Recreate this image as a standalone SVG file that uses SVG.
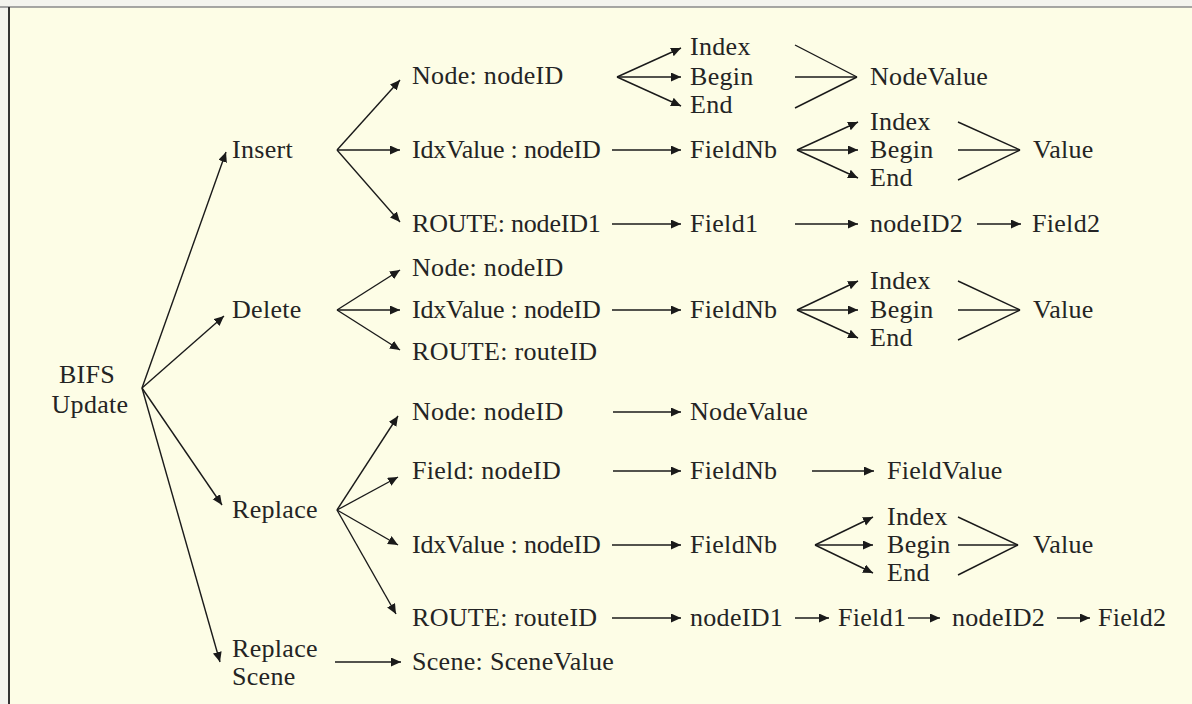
<svg xmlns="http://www.w3.org/2000/svg" width="1192" height="704" viewBox="0 0 1192 704">
<defs>
<marker id="ah" markerUnits="userSpaceOnUse" markerWidth="12" markerHeight="10" refX="10" refY="4.5" orient="auto">
<path d="M0,0 L10,4.5 L0,9 z" fill="#1a1a1a"/>
</marker>
<style>
text{font-family:"Liberation Serif","Times New Roman",serif;font-size:26px;letter-spacing:0.3px;fill:#242424}
text.t{letter-spacing:-0.2px}
.c line{stroke:#1a1a1a;stroke-width:1.4;fill:none}
.c .a{marker-end:url(#ah)}
</style>
</defs>
<rect x="0" y="0" width="1192" height="704" fill="#f4f4ee"/>
<rect x="9" y="7" width="1183" height="697" fill="#fdfde6"/>
<line x1="0" y1="7" x2="1192" y2="7" stroke="#8a8a8a" stroke-width="1.5"/>
<line x1="9" y1="7" x2="9" y2="704" stroke="#333" stroke-width="2"/>

<g id="connectors" class="c">
<line class="a" x1="142" y1="388" x2="226" y2="152"/>
<line class="a" x1="142" y1="388" x2="224" y2="316"/>
<line class="a" x1="142" y1="388" x2="222" y2="505"/>
<line class="a" x1="142" y1="388" x2="220" y2="662"/>

<line class="a" x1="337" y1="150" x2="400" y2="80"/>
<line class="a" x1="337" y1="150" x2="400" y2="150"/>
<line class="a" x1="337" y1="150" x2="400" y2="222"/>
<line class="a" x1="617" y1="77" x2="681" y2="48"/>
<line class="a" x1="617" y1="77" x2="681" y2="77"/>
<line class="a" x1="617" y1="77" x2="681" y2="106"/>
<line x1="795" y1="45" x2="857" y2="77"/>
<line x1="795" y1="77" x2="857" y2="77"/>
<line x1="795" y1="108" x2="857" y2="77"/>
<line class="a" x1="612" y1="150" x2="681" y2="150"/>
<line class="a" x1="797" y1="150" x2="858" y2="122"/>
<line class="a" x1="797" y1="150" x2="858" y2="150"/>
<line class="a" x1="797" y1="150" x2="858" y2="178"/>
<line x1="958" y1="122" x2="1020" y2="150"/>
<line x1="958" y1="150" x2="1020" y2="150"/>
<line x1="958" y1="180" x2="1020" y2="150"/>
<line class="a" x1="612" y1="224" x2="681" y2="224"/>
<line class="a" x1="795" y1="224" x2="858" y2="224"/>
<line class="a" x1="977" y1="224" x2="1021" y2="224"/>

<line class="a" x1="337" y1="310" x2="400" y2="270"/>
<line class="a" x1="337" y1="310" x2="400" y2="310"/>
<line class="a" x1="337" y1="310" x2="400" y2="350"/>
<line class="a" x1="612" y1="310" x2="681" y2="310"/>
<line class="a" x1="797" y1="310" x2="858" y2="281"/>
<line class="a" x1="797" y1="310" x2="858" y2="310"/>
<line class="a" x1="797" y1="310" x2="858" y2="338"/>
<line x1="958" y1="281" x2="1020" y2="310"/>
<line x1="958" y1="310" x2="1020" y2="310"/>
<line x1="958" y1="340" x2="1020" y2="310"/>

<line class="a" x1="337" y1="510" x2="398" y2="416"/>
<line class="a" x1="337" y1="510" x2="398" y2="477"/>
<line class="a" x1="337" y1="510" x2="398" y2="545"/>
<line class="a" x1="337" y1="510" x2="396" y2="614"/>
<line class="a" x1="613" y1="412" x2="681" y2="412"/>
<line class="a" x1="613" y1="471" x2="681" y2="471"/>
<line class="a" x1="812" y1="471" x2="874" y2="471"/>
<line class="a" x1="612" y1="545" x2="681" y2="545"/>
<line class="a" x1="815" y1="545" x2="873" y2="517"/>
<line class="a" x1="815" y1="545" x2="873" y2="545"/>
<line class="a" x1="815" y1="545" x2="873" y2="573"/>
<line x1="958" y1="517" x2="1018" y2="545"/>
<line x1="958" y1="545" x2="1018" y2="545"/>
<line x1="958" y1="575" x2="1018" y2="545"/>
<line class="a" x1="612" y1="618" x2="681" y2="618"/>
<line class="a" x1="795" y1="618" x2="829" y2="618"/>
<line class="a" x1="908" y1="618" x2="940" y2="618"/>
<line class="a" x1="1057" y1="618" x2="1090" y2="618"/>
<line class="a" x1="335" y1="662" x2="401" y2="662"/>
</g>

<g id="bifs"><text x="87" y="383" text-anchor="middle">BIFS</text><text x="90" y="413" text-anchor="middle">Update</text></g>
<g id="insert"><text x="232" y="158">Insert</text></g>
<g id="delete"><text x="232" y="318">Delete</text></g>
<g id="replace"><text x="232" y="518">Replace</text></g>
<g id="replaceScene"><text x="232" y="657">Replace</text><text x="232" y="685">Scene</text></g>

<g id="ins-node"><text x="412" y="84">Node: nodeID</text></g>
<g id="ins-node-index"><text x="690" y="55">Index</text></g>
<g id="ins-node-begin"><text x="690" y="85">Begin</text></g>
<g id="ins-node-end"><text x="690" y="113">End</text></g>
<g id="ins-nodevalue"><text x="870" y="85">NodeValue</text></g>
<g id="ins-idx"><text class="t" x="412" y="158">IdxValue : nodeID</text></g>
<g id="ins-fieldnb"><text x="690" y="158">FieldNb</text></g>
<g id="ins-idx-index"><text x="870" y="130">Index</text></g>
<g id="ins-idx-begin"><text x="870" y="158">Begin</text></g>
<g id="ins-idx-end"><text x="870" y="186">End</text></g>
<g id="ins-value"><text x="1033" y="158">Value</text></g>
<g id="ins-route"><text class="t" x="412" y="232">ROUTE: nodeID1</text></g>
<g id="ins-field1"><text x="690" y="232">Field1</text></g>
<g id="ins-nodeid2"><text x="870" y="232">nodeID2</text></g>
<g id="ins-field2"><text x="1032" y="232">Field2</text></g>

<g id="del-node"><text x="412" y="276">Node: nodeID</text></g>
<g id="del-idx"><text class="t" x="412" y="318">IdxValue : nodeID</text></g>
<g id="del-fieldnb"><text x="690" y="318">FieldNb</text></g>
<g id="del-route"><text x="412" y="360">ROUTE: routeID</text></g>
<g id="del-index"><text x="870" y="289">Index</text></g>
<g id="del-begin"><text x="870" y="318">Begin</text></g>
<g id="del-end"><text x="870" y="346">End</text></g>
<g id="del-value"><text x="1033" y="318">Value</text></g>

<g id="rep-node"><text x="412" y="420">Node: nodeID</text></g>
<g id="rep-nodevalue"><text x="690" y="420">NodeValue</text></g>
<g id="rep-field"><text x="412" y="479">Field: nodeID</text></g>
<g id="rep-fieldnb1"><text x="690" y="479">FieldNb</text></g>
<g id="rep-fieldvalue"><text x="887" y="479">FieldValue</text></g>
<g id="rep-idx"><text class="t" x="412" y="553">IdxValue : nodeID</text></g>
<g id="rep-fieldnb2"><text x="690" y="553">FieldNb</text></g>
<g id="rep-index"><text x="887" y="525">Index</text></g>
<g id="rep-begin"><text x="887" y="553">Begin</text></g>
<g id="rep-end"><text x="887" y="581">End</text></g>
<g id="rep-value"><text x="1033" y="553">Value</text></g>
<g id="rep-route"><text x="412" y="626">ROUTE: routeID</text></g>
<g id="rep-nodeid1"><text x="690" y="626">nodeID1</text></g>
<g id="rep-field1"><text x="838" y="626">Field1</text></g>
<g id="rep-nodeid2"><text x="952" y="626">nodeID2</text></g>
<g id="rep-field2"><text x="1098" y="626">Field2</text></g>
<g id="scene"><text x="412" y="670">Scene: SceneValue</text></g>
</svg>
